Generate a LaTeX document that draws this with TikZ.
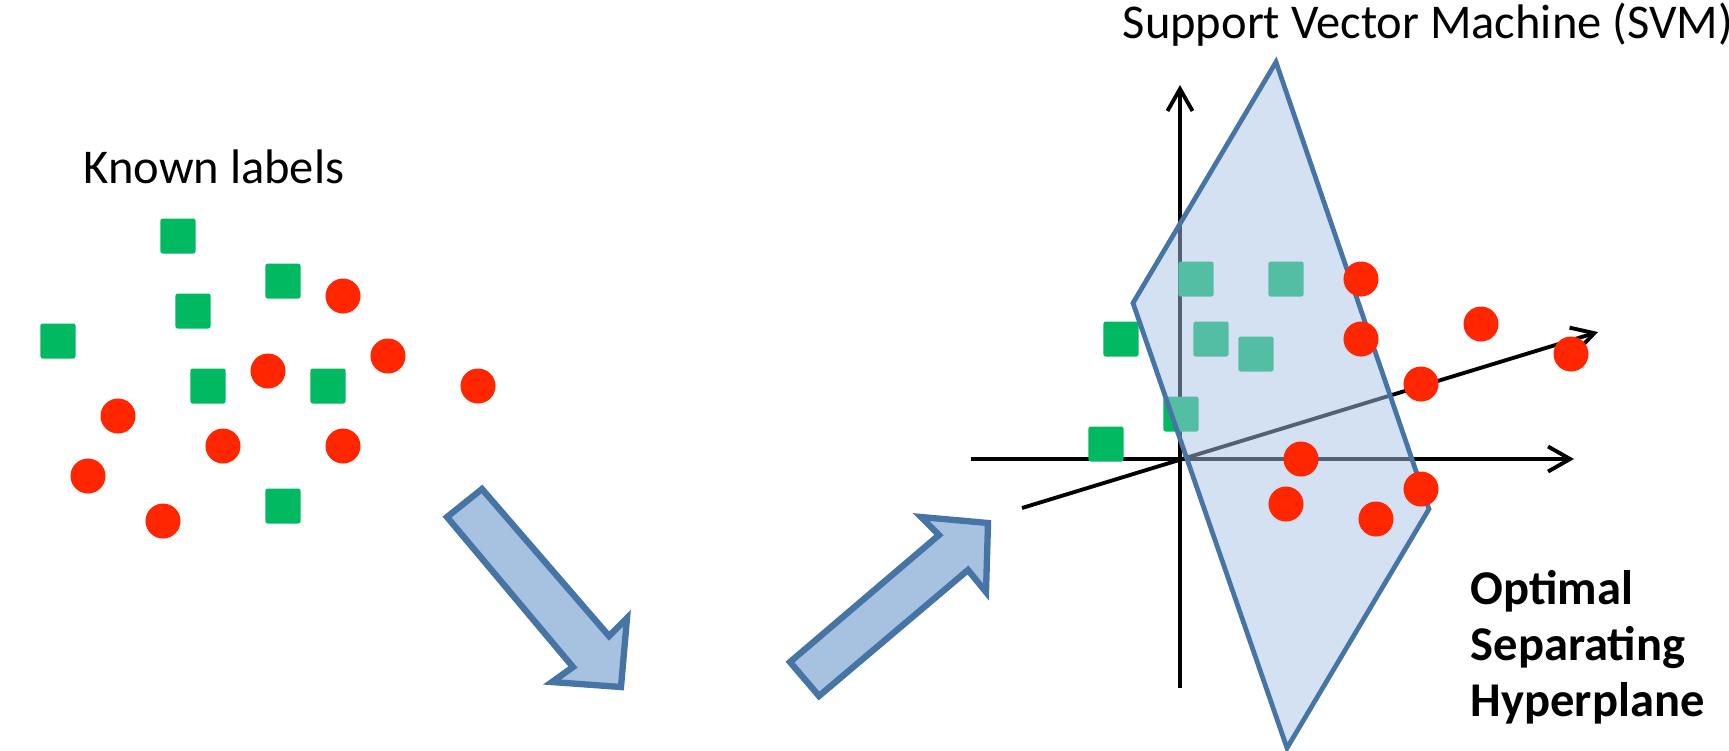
\documentclass[tikz,border=0pt]{standalone}
\usepackage{fontspec}
\setmainfont{Carlito}
\usetikzlibrary{arrows.meta}
\definecolor{sqgreen}{RGB}{0,185,97}
\definecolor{dotred}{RGB}{255,38,0}
\definecolor{arrfill}{RGB}{167,194,224}
\definecolor{arrline}{RGB}{70,116,164}
\definecolor{planefill}{RGB}{167,195,230}
\begin{document}
\begin{tikzpicture}[x=0.01cm,y=-0.01cm,
  sq/.style={rectangle,fill=sqgreen,minimum size=0.35cm,inner sep=0pt,rounded corners=0.6pt},
  dot/.style={circle,fill=dotred,minimum size=0.35cm,inner sep=0pt},
  blockarrow/.style={fill=arrfill,draw=arrline,line width=1.8pt,line join=miter},
  axisline/.style={line width=1.1pt,-{Straight Barb[length=0.22cm,width=0.25cm,line width=1.1pt]}},
  plane/.style={fill=planefill,fill opacity=0.5,draw=arrline,draw opacity=1,line width=1.35pt,line join=miter},
  lbl/.style={font=\fontsize{13.8}{15.9}\selectfont,inner sep=0pt}]
\useasboundingbox (0,0) rectangle (1729,750);

% ---------- left panel ----------
\node[lbl,anchor=base] (known) at (214,183) {Known labels};
\node[sq] (ls1) at (178,236) {};
\node[sq] (ls2) at (283,281) {};
\node[sq] (ls3) at (193,311) {};
\node[sq] (ls4) at (58,341) {};
\node[sq] (ls5) at (208,386) {};
\node[sq] (ls6) at (328,386) {};
\node[sq] (ls7) at (283,506) {};
\node[dot] (lc1) at (343,296) {};
\node[dot] (lc2) at (388,356) {};
\node[dot] (lc3) at (268,371) {};
\node[dot] (lc4) at (478,386) {};
\node[dot] (lc5) at (118,416) {};
\node[dot] (lc6) at (223,446) {};
\node[dot] (lc7) at (343,446) {};
\node[dot] (lc8) at (88,476) {};
\node[dot] (lc9) at (163,521) {};

% ---------- block arrows ----------
\draw[blockarrow] (447,517) -- (482,489) -- (609,636) -- (627,618) -- (621,687)
  -- (552,682) -- (573,667) -- cycle;
\draw[blockarrow] (790,662) -- (819,696) -- (968,570) -- (986,592) -- (988,523)
  -- (921,517) -- (939,535) -- cycle;

% ---------- right panel ----------
\node[lbl,anchor=base] (svm) at (1428,38) {Support Vector Machine (SVM)};

\coordinate (o) at (1180,459);
\coordinate (xl) at (971,459);
\coordinate (xr) at (1574,459);
\coordinate (yb) at (1180,688);
\coordinate (yt) at (1180,85);
\coordinate (zl) at (1022,508);
\coordinate (zr) at (1598,332);
\draw[axisline] (xl) -- (xr);
\draw[axisline] (yb) -- (yt);
\draw[axisline] (zl) -- (zr);

\node[sq] (rs1) at (1196,279) {};
\node[sq] (rs2) at (1286,279) {};
\node[sq] (rs3) at (1121,339) {};
\node[sq] (rs4) at (1211,339) {};
\node[sq] (rs5) at (1256,354) {};
\node[sq] (rs6) at (1181,414) {};
\node[sq] (rs7) at (1106,444) {};

\coordinate (p1) at (1276,62);
\coordinate (p2) at (1429,509);
\coordinate (p3) at (1287,748);
\coordinate (p4) at (1133,303);
\draw[plane] (p1) -- (p2) -- (p3) -- (p4) -- cycle;

\node[dot] (rc1) at (1361,279) {};
\node[dot] (rc2) at (1361,339) {};
\node[dot] (rc3) at (1481,324) {};
\node[dot] (rc4) at (1571,354) {};
\node[dot] (rc5) at (1421,384) {};
\node[dot] (rc6) at (1301,459) {};
\node[dot] (rc7) at (1421,489) {};
\node[dot] (rc8) at (1286,504) {};
\node[dot] (rc9) at (1376,519) {};

\node[lbl,font=\fontsize{13.8}{15.9}\selectfont\bfseries,anchor=base west,align=left] (osh) at (1470,716)
  {Optimal\\Separating\\Hyperplane};
\end{tikzpicture}
\end{document}
